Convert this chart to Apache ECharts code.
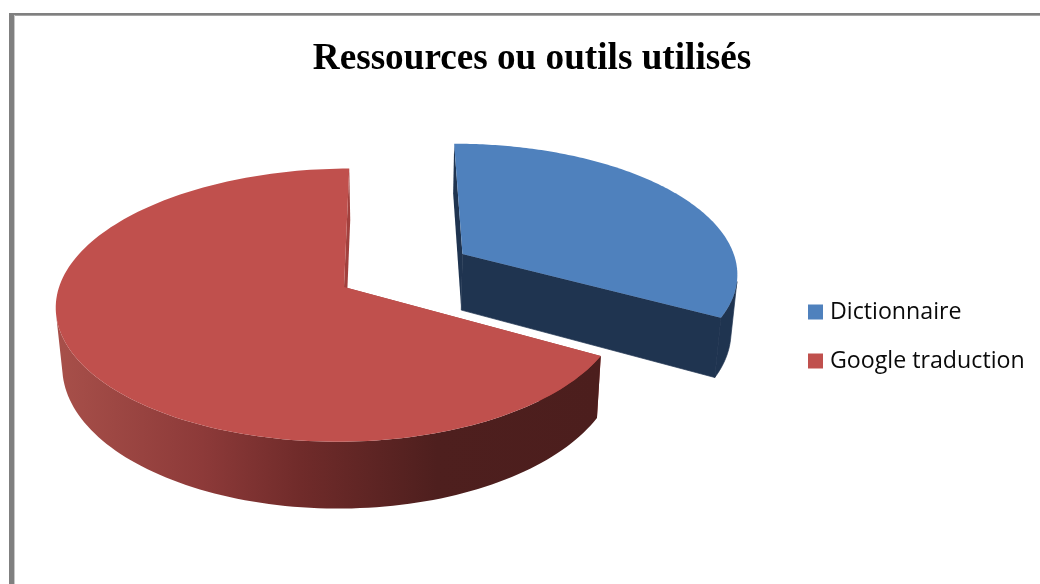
<!DOCTYPE html>
<html>
<head>
<meta charset="utf-8">
<style>html,body{margin:0;padding:0;background:#fff}#c{width:1040px;height:584px}</style>
<script src="https://cdn.jsdelivr.net/npm/echarts@6/dist/echarts.min.js"></script>
</head>
<body>
<div id="c"></div>
<script>
const chartTitle = 'Ressources ou outils utilisés';
const categories = ['Dictionnaire', 'Google traduction'];
const values = [33, 67];
const topColors = ['#4f81bd', '#c0504d'];
const cutColors = ['#1f3450', '#a2403d'];

// Perspective view of the 3D pie (drawing parameters, not data)
const V = { xv: 389, yv: -724, A: 1011, k: 0.1327, R: 281, q: 0.0139, depth: 58, xc: 400, f: 0.019, cx: 344 };
const explode = [0.5, 0];
const sliceScaleX = [1.012, 1];
const sliceScaleY = [0.99, 1];
const total = values.reduce((a, b) => a + b, 0);

function project(wx, wy, lower) {
  const s = 1 / (1 + V.k * wy);
  let x = V.xv + (V.cx - V.xv + V.R * wx) * s;
  let y = V.yv + (V.A + (lower ? V.depth : 0)) * s;
  if (lower) x = V.xc + (x - V.xc) * (1 - V.f);
  return [x, y];
}
function local(t, index) {
  const sx = Math.sin(t), c = Math.cos(t);
  return [(sx - V.q * sx * sx) * sliceScaleX[index], c * sliceScaleY[index]];
}
function arc(a0, a1, ox, oy, lower, index) {
  const n = 160, pts = [];
  for (let i = 0; i <= n; i++) {
    const t = a0 + (a1 - a0) * i / n;
    const l = local(t, index);
    pts.push(project(ox + l[0], oy + l[1], lower));
  }
  return pts;
}
function quadArea(a, b, c, d) {
  const p = [a, b, c, d];
  let s = 0;
  for (let i = 0; i < 4; i++) {
    const u = p[i], v = p[(i + 1) % 4];
    s += u[0] * v[1] - v[0] * u[1];
  }
  return s;
}
// Contiguous runs of the rim that face the viewer, each as one polygon
function frontRuns(top, bot) {
  const runs = [];
  let first = -1;
  for (let i = 0; i < top.length; i++) {
    const front = i < top.length - 1 && quadArea(top[i], top[i + 1], bot[i + 1], bot[i]) < 0;
    if (front && first < 0) first = i;
    if (!front && first >= 0) {
      runs.push(top.slice(first, i + 1).concat(bot.slice(first, i + 1).reverse()));
      first = -1;
    }
  }
  return runs;
}
function makeRender(index) {
  return function (params, api) {
    const before = values.slice(0, index).reduce((a, b) => a + b, 0);
    const a0 = before / total * Math.PI * 2;
    const a1 = a0 + api.value(0) / total * Math.PI * 2;
    const mid = (a0 + a1) / 2;
    const ox = explode[index] * Math.sin(mid), oy = explode[index] * Math.cos(mid);
    const top = arc(a0, a1, ox, oy, false, index);
    const bot = arc(a0, a1, ox, oy, true, index);
    const apexT = project(ox, oy, false), apexB = project(ox, oy, true);
    const wallFill = index === 0 ? cutColors[0] : new echarts.graphic.LinearGradient(55, 0, 600, 0, [
      { offset: 0, color: '#a8504a' },
      { offset: 0.27, color: '#8d3a39' },
      { offset: 0.45, color: '#702b2a' },
      { offset: 0.7, color: '#4e1f1e' },
      { offset: 1, color: '#4c1e1d' }
    ], true);
    const children = [];
    const face = (pts, fill, stroke) => children.push({
      type: 'polygon', shape: { points: pts },
      style: { fill: fill, stroke: stroke || null, lineWidth: stroke ? 0.7 : 0 }
    });
    const lastT = top[top.length - 1], lastB = bot[bot.length - 1];
    // radial cut faces first, then the outer rim, then the top
    face([apexT, lastT, lastB, apexB], cutColors[index], index === 0 ? cutColors[0] : null);
    face([apexT, top[0], bot[0], apexB], cutColors[index]);
    frontRuns(top, bot).forEach(run => face(run, wallFill, index === 0 ? cutColors[0] : null));
    face([apexT].concat(top), topColors[index]);
    return { type: 'group', children: children };
  };
}

const chart = echarts.init(document.getElementById('c'), null, { renderer: 'canvas' });
chart.setOption({
  animation: false,
  backgroundColor: '#ffffff',
  title: {
    text: chartTitle,
    left: 527, top: 36,
    textAlign: 'center',
    textStyle: { fontFamily: 'Liberation Serif', fontWeight: 'bold', fontSize: 37.2, color: '#000' }
  },
  legend: {
    data: categories,
    orient: 'vertical',
    left: 803, top: 291,
    icon: 'rect',
    itemWidth: 15, itemHeight: 15, itemGap: 17,
    textStyle: { fontFamily: 'Open Sans', fontSize: 23.2, color: '#0a0a0a', lineHeight: 32, padding: [0, 0, 0, 2] }
  },
  graphic: [
    { type: 'rect', shape: { x: 9, y: 13, width: 1031, height: 2 }, style: { fill: '#808080' }, silent: true },
    { type: 'rect', shape: { x: 14, y: 15, width: 1026, height: 1 }, style: { fill: '#a6a6a6' }, silent: true },
    { type: 'rect', shape: { x: 9, y: 13, width: 5, height: 571 }, style: { fill: '#808080' }, silent: true },
    { type: 'rect', shape: { x: 14, y: 15, width: 1, height: 569 }, style: { fill: '#c8c8c8' }, silent: true }
  ],
  series: categories.map((name, i) => ({
    type: 'custom',
    name: name,
    coordinateSystem: 'none',
    renderItem: makeRender(i),
    itemStyle: { color: topColors[i] },
    data: [[values[i]]],
    z: i === 0 ? 2 : 3
  }))
});
</script>
</body>
</html>
